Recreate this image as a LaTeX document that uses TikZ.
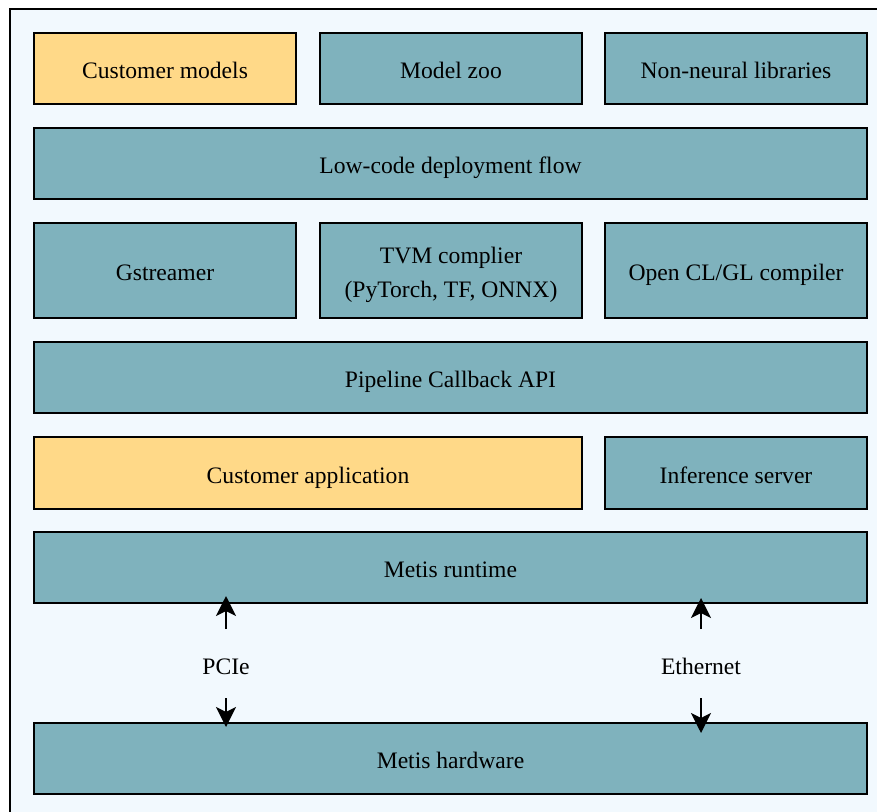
\documentclass[tikz,border=0pt]{standalone}
\usepackage{fontspec}
\setmainfont{Liberation Serif}
\usetikzlibrary{arrows.meta}
\definecolor{tealc}{HTML}{7FB2BD}
\definecolor{yel}{HTML}{FFD988}
\definecolor{bgc}{HTML}{F2F9FE}
\begin{document}
\begin{tikzpicture}[x=1pt,y=-1pt,
  blk/.style={draw=black,line width=2pt,fill=tealc,inner sep=0pt,font=\fontsize{23.6}{34}\selectfont,align=center,text height=22pt,text depth=1.4pt},
  ylw/.style={blk,fill=yel},
  lbl/.style={font=\fontsize{23.6}{34}\selectfont,inner sep=0pt,text height=22pt,text depth=1.4pt},
  conn/.style={line width=2pt,-{Stealth[length=20pt,width=20pt,inset=5pt]}}]
\useasboundingbox (0,0) rectangle (877,811);
\fill[white] (0,0) rectangle (877,811);
\draw[line width=2pt,fill=bgc] (10,9) rectangle (900,840);
% row 1
\node[ylw,minimum width=262pt,minimum height=71pt] (cm) at (165,68.5) {Customer models};
\node[blk,minimum width=262pt,minimum height=71pt] (mz) at (451,68.5) {Model zoo};
\node[blk,minimum width=262pt,minimum height=71pt] (nn) at (736,68.5) {Non-neural libraries};
% row 2
\node[blk,minimum width=833pt,minimum height=71pt] (lc) at (450.5,163.5) {Low-code deployment flow};
% row 3
\node[blk,minimum width=262pt,minimum height=95pt] (gs) at (165,270.5) {Gstreamer};
\node[blk,minimum width=262pt,minimum height=95pt,text height=56pt] (tvm) at (451,270.5) {TVM complier\\(PyTorch, TF, ONNX)};
\node[blk,minimum width=262pt,minimum height=95pt] (ocl) at (736,270.5) {Open CL/GL compiler};
% row 4
\node[blk,minimum width=833pt,minimum height=71pt] (pcb) at (450.5,377.5) {Pipeline Callback API};
% row 5
\node[ylw,minimum width=548pt,minimum height=72pt] (ca) at (308,473) {Customer application};
\node[blk,minimum width=262pt,minimum height=72pt] (is) at (736,473) {Inference server};
% row 6
\node[blk,minimum width=833pt,minimum height=71pt] (mr) at (450.5,567.5) {Metis runtime};
% row 7
\node[blk,minimum width=833pt,minimum height=71pt] (mh) at (450.5,758.5) {Metis hardware};
% connectors
\node[lbl] (pcie) at (226,664) {PCIe};
\node[lbl] (eth) at (701,664) {Ethernet};
\coordinate (p1) at (226,629);
\coordinate (p2) at (226,698);
\coordinate (e1) at (701,629);
\coordinate (e2) at (701,698);
\coordinate (pt1) at (226,596);
\coordinate (pt2) at (226,727);
\coordinate (et1) at (701,598);
\coordinate (et2) at (701,733);
\draw[conn] (p1) -- (pt1);
\draw[conn] (p2) -- (pt2);
\draw[conn] (e1) -- (et1);
\draw[conn] (e2) -- (et2);
\end{tikzpicture}
\end{document}
